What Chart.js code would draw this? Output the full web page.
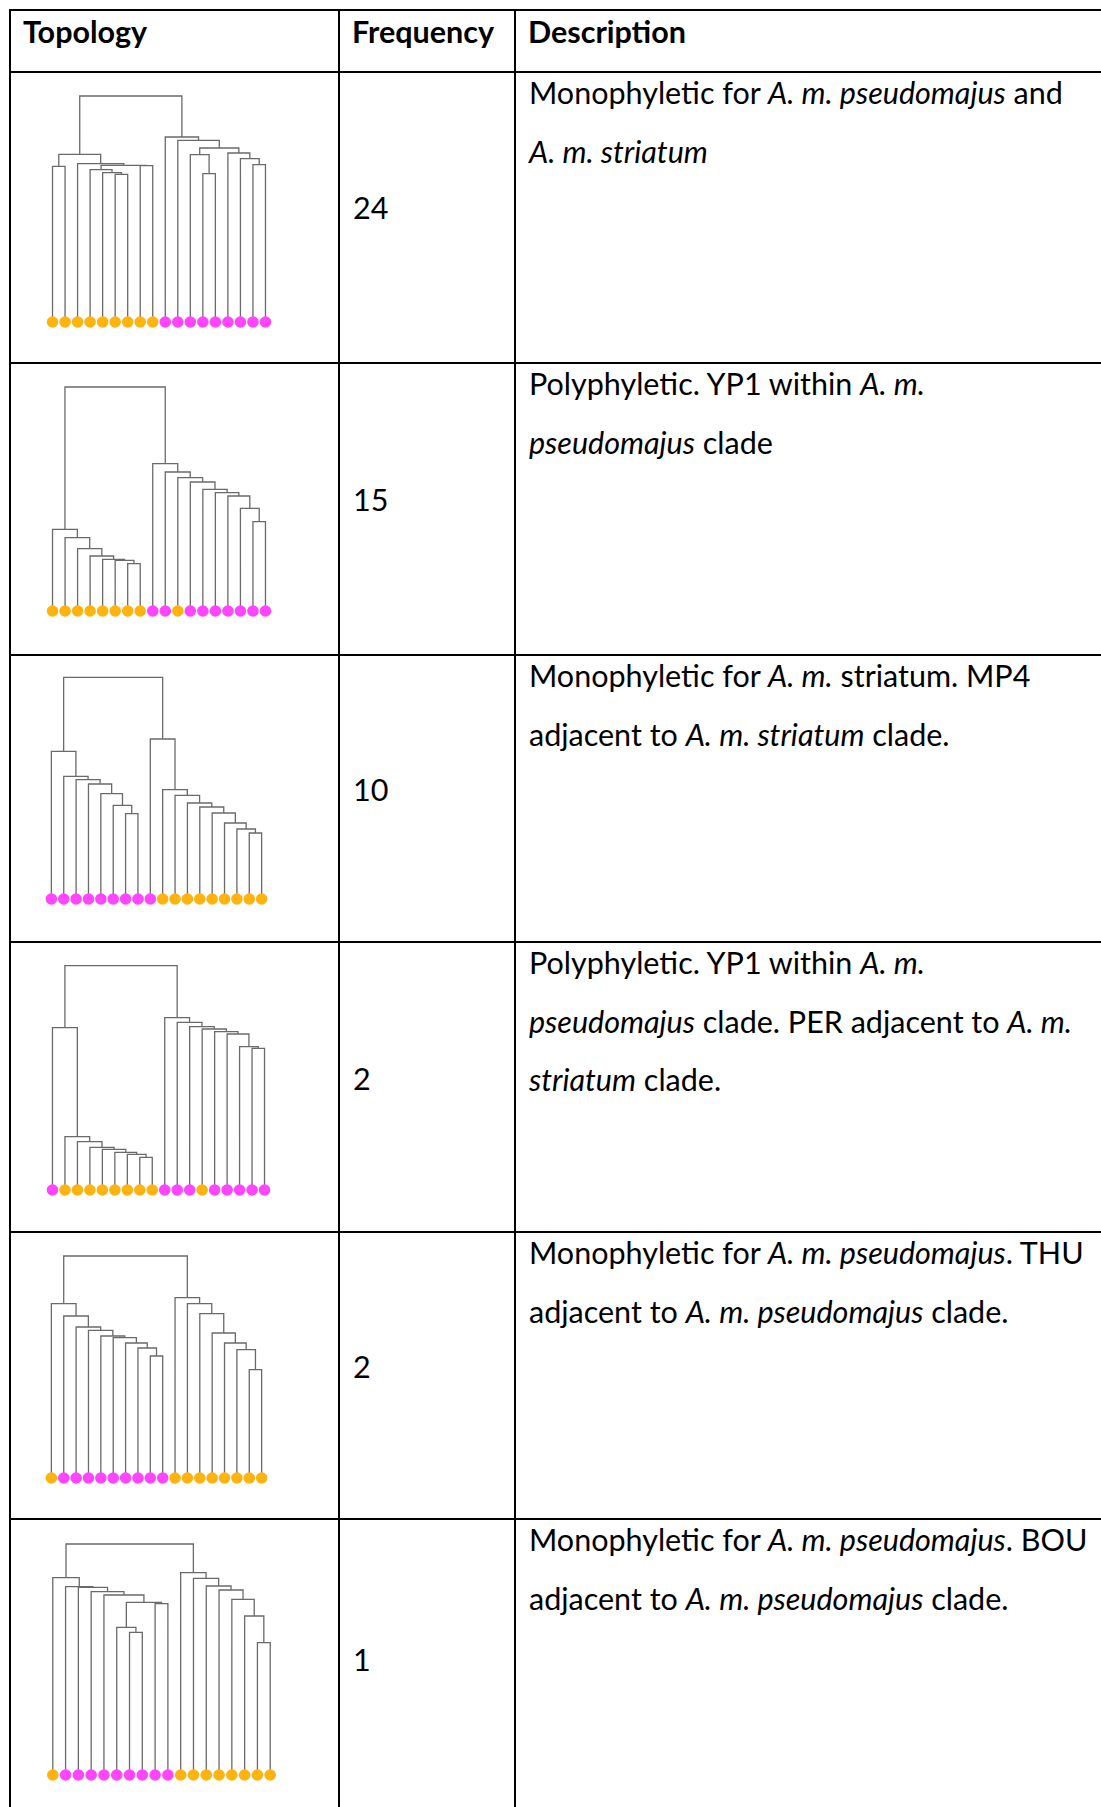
<!DOCTYPE html>
<html>
<head>
<meta charset="utf-8">
<script src="https://cdn.jsdelivr.net/npm/chart.js@4.4.1/dist/chart.umd.min.js"></script>
<style>
  html,body{margin:0;background:#fff;width:1101px;height:1807px;overflow:hidden;}
  #page{position:relative;width:1101px;height:1807px;font-family:Lato,"Open Sans",sans-serif;font-size:30.5px;color:#000;}
  .hl{position:absolute;height:1.5px;background:#000;}
  .vl{position:absolute;width:1.5px;background:#000;}
  .txt{position:absolute;white-space:nowrap;line-height:40px;}
  .tree{position:absolute;}
</style>
</head>
<body>
<div id="page"></div>
<script>
/* ---------- data ---------- */
const HEADERS   = ['Topology','Frequency','Description'];
const FREQUENCY = [24, 15, 10, 2, 2, 1];
const DESCRIPTIONS = [
  ['Monophyletic for <i>A. m. pseudomajus</i> and', '<i>A. m. striatum</i>'],
  ['Polyphyletic. YP1 within <i>A. m.</i>', '<i>pseudomajus</i> clade'],
  ['Monophyletic for <i>A. m.</i> striatum. MP4', 'adjacent to <i>A. m. striatum</i> clade.'],
  ['Polyphyletic. YP1 within <i>A. m.</i>', '<i>pseudomajus</i> clade. PER adjacent to <i>A. m.</i>', '<i>striatum</i> clade.'],
  ['Monophyletic for <i>A. m. pseudomajus</i>. THU', 'adjacent to <i>A. m. pseudomajus</i> clade.'],
  ['Monophyletic for <i>A. m. pseudomajus</i>. BOU', 'adjacent to <i>A. m. pseudomajus</i> clade.']
];

/* trees: [left, right, height]; a number is a leaf (0..17) */
const TREE_1 = [[[0,1,467],[2,[[3,[4,[5,6,443],448],457],[7,8,469],470],475],503],
                [9,[10,[[11,[12,13,445],502],[14,[15,[16,17,472],490],507],522],545],555],678];
const TREE_2 = [[0,[1,[2,[3,[4,[5,[6,7,142],152],155],165],187],220],245],
                [8,[9,[10,[11,[12,[13,[14,[15,[16,17,268],308],345],355],365],387],400],417],442],672];
const TREE_3 = [[0,[1,[2,[3,[4,[5,[6,7,256],281],316],345],358],368],443],
                [8,[9,[10,[11,[12,[13,[14,[15,[16,17,198],210],228],258],276],288],311],328],480],665];
const TREE_4 = [[0,[1,[2,[3,[4,[5,[6,[7,8,98],107],113],122],128],145],160],487],
                [9,[10,[11,[12,[13,[14,[15,[16,17,425],430],468],475],483],490],503],517],673];
const TREE_5 = [[0,[1,[2,[3,[4,[5,[6,[7,[8,9,366],390],405],421],426],443],453],486],523],
                [10,[11,[12,[13,[14,[15,[16,17,325],385],405],435],493],523],541],666];
const TREE_6 = [[0,[1,[2,[3,[4,[[5,[6,7,428],443],[8,9,514],518],540],550],563],565],592],
                [10,[11,[12,[13,[14,[15,[16,17,397],477],527],555],567],590],607],693];
const TREES = [TREE_1, TREE_2, TREE_3, TREE_4, TREE_5, TREE_6];

/* leaf colours: O = A. m. pseudomajus (orange), M = A. m. striatum (magenta) */
const LEAVES_1 = 'OOOOOOOOOMMMMMMMMM';
const LEAVES_2 = 'OOOOOOOOMMOMMMMMMM';
const LEAVES_3 = 'MMMMMMMMMOOOOOOOOO';
const LEAVES_4 = 'MOOOOOOOOMMMOMMMMM';
const LEAVES_5 = 'OMMMMMMMMMOOOOOOOO';
const LEAVES_6 = 'OMMMMMMMMMOOOOOOOO';
const LEAVES = [LEAVES_1, LEAVES_2, LEAVES_3, LEAVES_4, LEAVES_5, LEAVES_6];

/* ---------- layout ---------- */
const ROW_Y = [9, 71, 362, 654, 941, 1231, 1518];
const COL_X = [9, 338, 514];
const COLOR = {O:'#FFB30F', M:'#FF45FF'};
const TREE_BOX = [   // left, top, width  (canvas height 250)
  [40, 82, 238], [40, 371, 238], [39, 659, 235],
  [40, 950, 237], [39, 1238, 235], [40, 1535, 243]
];
const FREQ_Y = [207, 499, 789, 1078, 1366, 1659];

const page = document.getElementById('page');
const add = (cls, css, html) => {
  const d = document.createElement('div');
  d.className = cls; Object.assign(d.style, css);
  if (html !== undefined) d.innerHTML = html;
  page.appendChild(d); return d;
};

/* table lines */
ROW_Y.forEach(y => add('hl', {left: COL_X[0]+'px', top: y+'px', width: (1101-COL_X[0])+'px'}));
COL_X.forEach(x => add('vl', {left: x+'px', top: ROW_Y[0]+'px', height: (1807-ROW_Y[0])+'px'}));

/* header */
HEADERS.forEach((h,i) => add('txt', {left: (COL_X[i]+14)+'px', top: (31-20)+'px', fontWeight: 'bold'}, h));

/* frequency + description */
FREQUENCY.forEach((f,i) => add('txt', {left: (COL_X[1]+15)+'px', top: (FREQ_Y[i]-20)+'px'}, f));
DESCRIPTIONS.forEach((lines,i) => lines.forEach((l,k) =>
  add('txt', {left: (COL_X[2]+15)+'px', top: (ROW_Y[i+1]+21+k*58.5-20)+'px'}, l)));

/* ---------- dendrograms ---------- */
function walk(node, pts){
  if (typeof node === 'number') return {x: node, h: 0};
  const l = walk(node[0], pts), r = walk(node[1], pts), h = node[2];
  pts.push({x:l.x,y:l.h},{x:l.x,y:h},{x:r.x,y:h},{x:r.x,y:r.h},{x:r.x,y:null});
  return {x:(l.x+r.x)/2, h};
}

TREES.forEach((tree,i) => {
  const [left, top, width] = TREE_BOX[i];
  const box = add('tree', {left: left+'px', top: top+'px', width: width+'px', height: '250px'});
  const cv = document.createElement('canvas');
  cv.width = width; cv.height = 250;
  box.appendChild(cv);
  const branches = [];
  walk(tree, branches);
  const leaves = LEAVES[i].split('');
  new Chart(cv, {
    type: 'scatter',
    data: {datasets: [
      {data: leaves.map((c,k) => ({x:k, y:0})),
       pointRadius: 5.8, pointBorderWidth: 0,
       pointBackgroundColor: leaves.map(c => COLOR[c]), clip: false},
      {data: branches, showLine: true, spanGaps: false, pointRadius: 0,
       borderColor: '#6a6a6a', borderWidth: 1.3, clip: false}
    ]},
    options: {
      responsive: false, animation: false,
      layout: {padding: 0, autoPadding: false},
      plugins: {legend: {display: false}, tooltip: {enabled: false}},
      scales: {
        x: {type: 'linear', display: false, min: -1, max: 18},
        y: {type: 'linear', display: false, min: -30, max: 720}
      }
    }
  });
});
</script>
</body>
</html>
